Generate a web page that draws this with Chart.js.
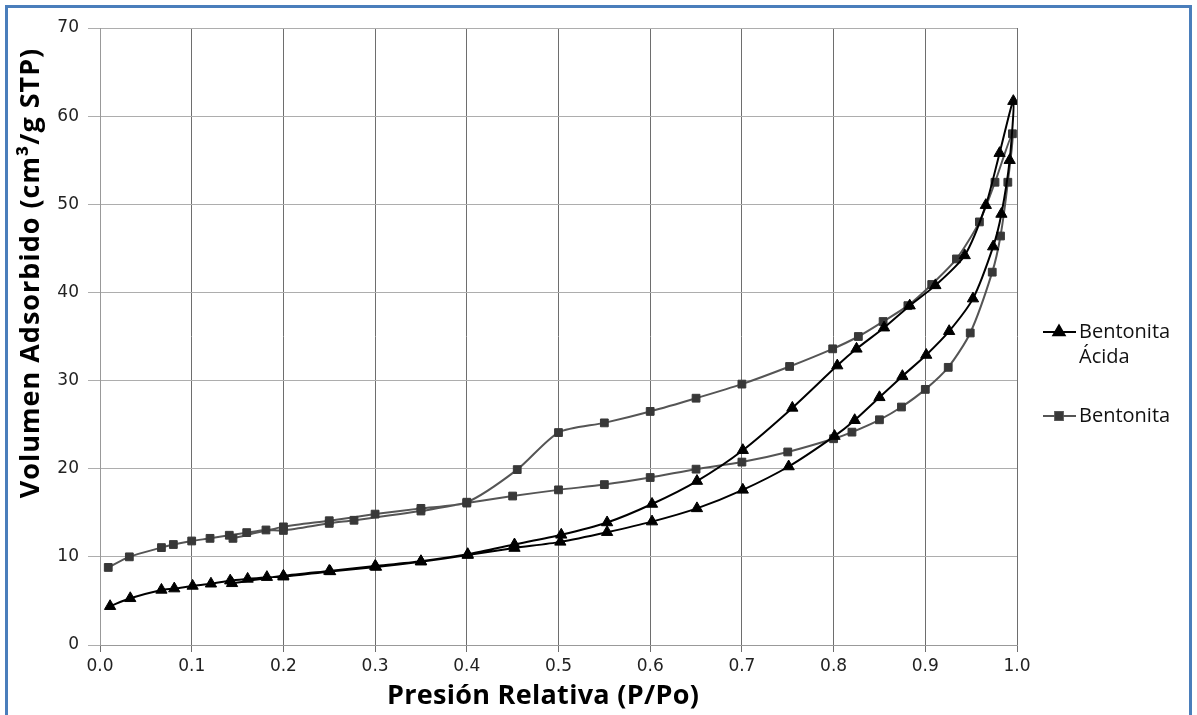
<!DOCTYPE html>
<html>
<head>
<meta charset="utf-8">
<script src="https://cdn.jsdelivr.net/npm/chart.js@4.4.1/dist/chart.umd.min.js"></script>
<style>
  html, body { margin: 0; padding: 0; background: #fff; overflow: hidden; }
  #wrap { position: relative; width: 1197px; height: 715px; }
  #frame { position: absolute; left: 5px; top: 5px; width: 1181px; height: 720px; border: 3px solid #4a7ebb; pointer-events: none; }
  canvas { position: absolute; left: 0; top: 0; }
</style>
</head>
<body>
<div id="wrap">
  <canvas id="isoChart" width="1197" height="715"></canvas>
  <div id="frame"></div>
</div>
<script>
// Bentonita Ácida: adsorption up, then desorption back down
const acidX = [0.011, 0.033, 0.067, 0.081, 0.101, 0.121, 0.142, 0.161, 0.182, 0.200, 0.251, 0.301, 0.350,
  0.401, 0.452, 0.502, 0.553, 0.602, 0.651, 0.701, 0.751, 0.801, 0.823, 0.850, 0.875, 0.901, 0.926, 0.952,
  0.974, 0.983, 0.992, 0.996,
  0.981, 0.966, 0.943, 0.911, 0.883, 0.855, 0.825, 0.804, 0.755, 0.701, 0.651, 0.602, 0.553, 0.503, 0.452,
  0.401, 0.350, 0.300, 0.250, 0.200, 0.144];
const acidY = [4.4, 5.3, 6.25, 6.4, 6.7, 6.95, 7.3, 7.5, 7.7, 7.75, 8.35, 8.85, 9.45,
  10.2, 11.0, 11.7, 12.8, 14.0, 15.5, 17.6, 20.25, 23.7, 25.5, 28.1, 30.5, 32.9, 35.6, 39.3,
  45.2, 48.9, 55.0, 61.7,
  55.8, 49.9, 44.2, 40.8, 38.5, 36.0, 33.6, 31.7, 26.9, 22.1, 18.6, 16.0, 13.9, 12.5, 11.4,
  10.3, 9.5, 8.95, 8.4, 7.85, 7.0];

// Bentonita
const bentX = [0.009, 0.032, 0.067, 0.080, 0.100, 0.120, 0.141, 0.160, 0.181, 0.200, 0.250, 0.277, 0.350,
  0.400, 0.450, 0.500, 0.550, 0.600, 0.650, 0.700, 0.750, 0.800, 0.820, 0.850, 0.874, 0.900, 0.925, 0.949,
  0.973, 0.982, 0.990, 0.995,
  0.976, 0.959, 0.934, 0.907, 0.881, 0.854, 0.827, 0.799, 0.752, 0.700, 0.650, 0.600, 0.550, 0.500, 0.455,
  0.400, 0.350, 0.300, 0.250, 0.200, 0.145];
const bentY = [8.8, 10.0, 11.05, 11.4, 11.8, 12.1, 12.45, 12.75, 13.05, 13.0, 13.8, 14.15, 15.2,
  16.1, 16.9, 17.6, 18.2, 19.0, 19.95, 20.75, 21.9, 23.4, 24.15, 25.55, 27.0, 29.0, 31.5, 35.4,
  42.3, 46.4, 52.5, 58.0,
  52.5, 48.0, 43.8, 40.9, 38.5, 36.7, 35.0, 33.6, 31.6, 29.6, 28.0, 26.5, 25.2, 24.1, 19.9,
  16.2, 15.5, 14.85, 14.1, 13.4, 12.1];

const seriesNames = [["Bentonita", "Ácida"], ["Bentonita"]];
const xTickLabels = ["0.0", "0.1", "0.2", "0.3", "0.4", "0.5", "0.6", "0.7", "0.8", "0.9", "1.0"];
const yTickLabels = ["0", "10", "20", "30", "40", "50", "60", "70"];
const xTitle = "Presión Relativa (P/Po)";
const yTitle = "Volumen Adsorbido (cm³/g STP)";

function toPoints(xs, ys) {
  return xs.map((x, i) => ({ x: x, y: ys[i] }));
}

const tickFont = { family: "DejaVu Sans", size: 17 };

// axis titles and the two-line legend, placed like the original
const extrasPlugin = {
  id: "extras",
  afterDraw(chart) {
    const ctx = chart.ctx;
    ctx.save();
    ctx.fillStyle = "#000";
    ctx.font = "bold 27px 'Open Sans'";
    ctx.letterSpacing = "0.3px";
    ctx.textAlign = "center";
    ctx.textBaseline = "middle";
    ctx.fillText(xTitle, 543, 696);
    ctx.translate(31, 273);
    ctx.rotate(-Math.PI / 2);
    ctx.letterSpacing = "1px";
    ctx.fillText(yTitle, 0, 0);
    ctx.restore();

    const rows = [332, 416];
    chart.data.datasets.forEach((ds, i) => {
      const y = rows[i];
      ctx.save();
      ctx.strokeStyle = ds.borderColor;
      ctx.lineWidth = 2;
      ctx.beginPath();
      ctx.moveTo(1043, y);
      ctx.lineTo(1076, y);
      ctx.stroke();
      Chart.helpers.drawPoint(ctx, {
        pointStyle: ds.pointStyle, radius: ds.pointRadius, borderWidth: 1, rotation: 0
      }, 1059, y);
      ctx.fillStyle = ds.pointBackgroundColor;
      ctx.fill();
      ctx.restore();
      ctx.save();
      ctx.fillStyle = "#111";
      ctx.font = "20px 'Open Sans'";
      ctx.textBaseline = "middle";
      seriesNames[i].forEach((line, j) => {
        ctx.fillText(line, 1079, y + j * 25);
      });
      ctx.restore();
    });
  }
};

new Chart(document.getElementById("isoChart"), {
  type: "scatter",
  data: {
    datasets: [
      {
        label: seriesNames[0].join(" "),
        data: toPoints(acidX, acidY),
        showLine: true,
        tension: 0.25,
        borderColor: "#000",
        borderWidth: 2,
        pointStyle: "triangle",
        pointRadius: 6.5,
        pointBackgroundColor: "#000",
        pointBorderColor: "#000",
        pointBorderWidth: 1
      },
      {
        label: seriesNames[1].join(" "),
        data: toPoints(bentX, bentY),
        showLine: true,
        tension: 0.25,
        borderColor: "#555",
        borderWidth: 2,
        pointStyle: "rect",
        pointRadius: 5.5,
        pointBackgroundColor: "#383838",
        pointBorderColor: "#383838",
        pointBorderWidth: 1
      }
    ]
  },
  options: {
    responsive: false,
    animation: false,
    layout: { padding: { left: 0, right: 180, top: 28, bottom: 0 } },
    plugins: {
      legend: { display: false },
      tooltip: { enabled: false }
    },
    scales: {
      x: {
        type: "linear",
        min: 0,
        max: 1,
        ticks: {
          stepSize: 0.1,
          font: tickFont,
          color: "#222",
          padding: 4,
          callback: (v, i) => xTickLabels[i]
        },
        grid: { color: "#6e6e6e", tickLength: 7 },
        border: { color: "#999" },
        afterFit: (s) => { s.height = 70; }
      },
      y: {
        min: 0,
        max: 70,
        ticks: {
          stepSize: 10,
          font: tickFont,
          color: "#222",
          padding: 9,
          callback: (v, i) => yTickLabels[i]
        },
        grid: { color: "#adadad", tickLength: 12 },
        border: { color: "#999" },
        afterFit: (s) => { s.width = 100; }
      }
    }
  },
  plugins: [extrasPlugin]
});
</script>
</body>
</html>
